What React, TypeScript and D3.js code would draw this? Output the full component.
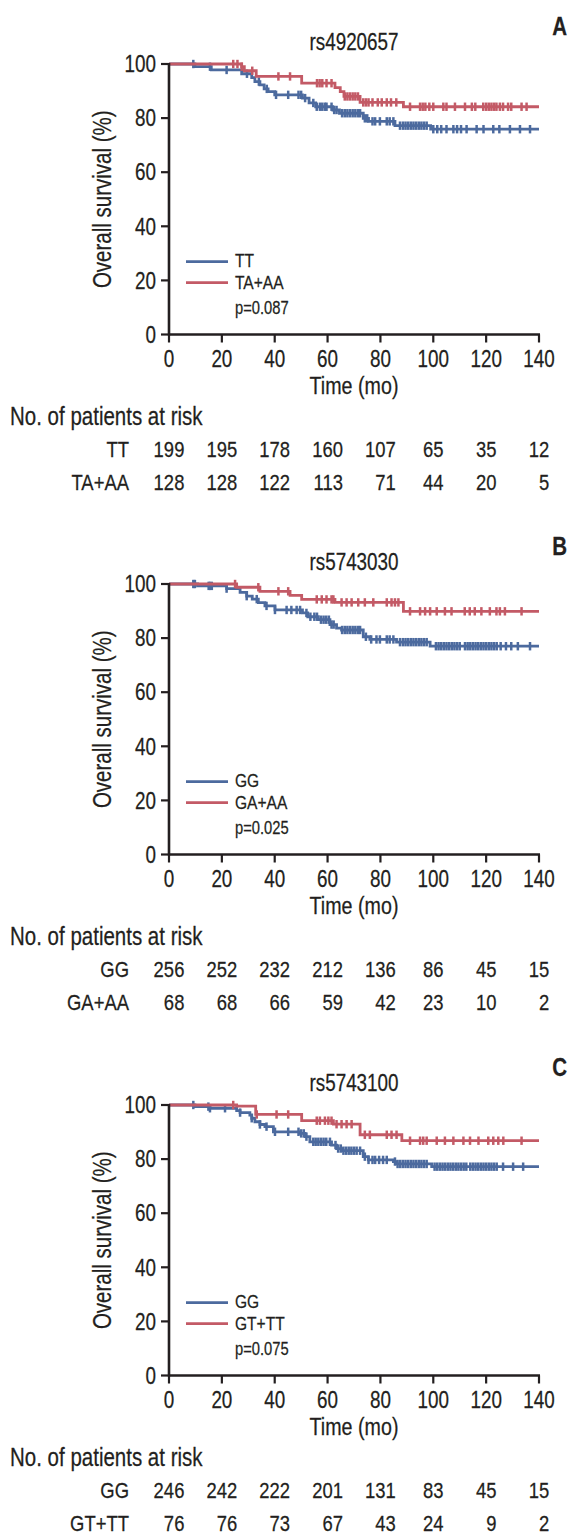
import React from 'react';
import * as d3 from 'd3';

type Step = [number, number];

const TIME_TICKS = [0, 20, 40, 60, 80, 100, 120, 140];
const SURV_TICKS = [0, 20, 40, 60, 80, 100];

// ---- Panel A: rs4920657 ----
const A_TITLE = 'rs4920657';
const A_LETTER = 'A';
const A_GROUPS = ['TT', 'TA+AA'];
const A_P = 'p=0.087';
const A_BLUE_STEPS: Step[] = [[0, 100], [9.8, 99.0], [16, 97.8], [27.5, 96.4], [31.3, 95.0], [32.5, 93.5], [34.4, 92.3], [36, 90.8], [37.5, 89.8], [40, 88.6], [50.5, 87.4], [53, 85.6], [55.5, 84.2], [62, 83.0], [64.5, 81.8], [73.5, 79.9], [75.5, 78.8], [85.5, 77.2], [99, 75.9]];
const A_BLUE_CENSOR = [9.2, 15.5, 21.8, 29.5, 34, 37, 40.5, 45.1, 49, 50, 51.5, 54.6, 55.9, 57.1, 58, 59, 59.6, 61.5, 62.5, 63.4, 65.5, 66.5, 67.5, 68.5, 69.5, 70.5, 71.5, 72.3, 74.1, 75, 77, 78, 79.8, 82.4, 83.5, 84.9, 87.4, 88.5, 89.5, 90.5, 91.5, 92.5, 93.5, 94.5, 95.5, 96.5, 97.5, 100, 101.5, 103, 105, 107.6, 109, 110.5, 112.6, 116.4, 119, 122.7, 125, 129, 132.8, 136.6];
const A_RED_STEPS: Step[] = [[0, 100], [27.5, 99.0], [28.5, 97.5], [33, 95.4], [50.2, 92.9], [62.8, 91.3], [64.8, 89.8], [66.2, 88.0], [72.3, 85.8], [88.7, 84.2]];
const A_RED_CENSOR = [24.3, 25.9, 27.5, 31.5, 41.4, 45.8, 56, 57, 58, 59.6, 61.5, 66.5, 67.5, 68.5, 69.5, 70.5, 71.5, 73.5, 74.5, 75.5, 77, 79, 80.5, 82.4, 84, 86, 91.2, 95, 96, 97, 98.5, 100, 103.8, 105, 108.2, 112, 114.6, 115.9, 118.9, 120, 121, 122, 123, 123.9, 125.2, 126.4, 128.3, 129.5, 133.4, 135.3];
const A_RISK_1 = [199, 195, 178, 160, 107, 65, 35, 12];
const A_RISK_2 = [128, 128, 122, 113, 71, 44, 20, 5];

// ---- Panel B: rs5743030 ----
const B_TITLE = 'rs5743030';
const B_LETTER = 'B';
const B_GROUPS = ['GG', 'GA+AA'];
const B_P = 'p=0.025';
const B_BLUE_STEPS: Step[] = [[0, 100], [10.8, 99.3], [21.8, 98.3], [26.9, 96.9], [29.4, 95.5], [31.5, 94.4], [33.8, 93.1], [36.3, 91.9], [40.1, 90.4], [50.5, 89.3], [52.5, 87.9], [56.5, 86.8], [60.9, 85.0], [63.4, 83.7], [65.3, 83.0], [73.5, 80.5], [76.0, 79.5], [86.1, 78.5], [98.8, 77.0]];
const B_BLUE_CENSOR = [9.2, 9.8, 15, 15.5, 16.2, 21.8, 29.4, 33.2, 36.9, 40.1, 44.5, 46.3, 48.3, 49.6, 52, 53.5, 55, 56, 57.5, 58.5, 59.5, 60.5, 61.5, 62.3, 65.5, 66.5, 67.5, 68.5, 69.5, 70.5, 71.5, 72.3, 74.5, 76.5, 78.5, 79.8, 82.4, 83.5, 84.9, 87.4, 88.5, 89.5, 90.5, 91.5, 92.5, 93.5, 94.5, 95.5, 96.5, 97.5, 101, 102, 103, 104, 105, 106, 107, 108, 109, 110, 112, 113, 114, 115, 116, 117, 118, 119, 120, 121, 122, 123, 124, 125.5, 127.5, 129.5, 132, 136.6];
const B_RED_STEPS: Step[] = [[0, 100], [25.6, 98.8], [34.4, 97.3], [45.8, 95.8], [50.2, 94.3], [62.8, 93.2], [88.7, 89.9]];
const B_RED_CENSOR = [25, 33.8, 41.4, 45.1, 55.9, 57.8, 59.6, 61.5, 62.2, 65.3, 67.2, 69.1, 71.6, 74.1, 77.3, 82.4, 84.2, 85.5, 86.8, 91.2, 95, 96.9, 98.8, 101.3, 104.4, 106.9, 111.9, 113.8, 115.7, 118.2, 121.4, 123.9, 125.2, 127.1, 133.4];
const B_RISK_1 = [256, 252, 232, 212, 136, 86, 45, 15];
const B_RISK_2 = [68, 68, 66, 59, 42, 23, 10, 2];

// ---- Panel C: rs5743100 ----
const C_TITLE = 'rs5743100';
const C_LETTER = 'C';
const C_GROUPS = ['GG', 'GT+TT'];
const C_P = 'p=0.075';
const C_BLUE_STEPS: Step[] = [[0, 100], [9.8, 99.4], [15.5, 98.8], [25.6, 97.9], [26.9, 97.2], [30.6, 96.3], [31.3, 95.1], [32.5, 93.8], [34.4, 92.8], [36.3, 92.0], [39.5, 90.1], [49.6, 89.5], [51.5, 88.3], [53.3, 86.4], [61.5, 85.2], [63.4, 83.9], [65.3, 83.1], [73.5, 80.9], [75.4, 79.7], [84.9, 79.1], [86.1, 78.2], [99.4, 77.2]];
const C_BLUE_CENSOR = [9.2, 14.9, 15.5, 21.2, 26.9, 31.3, 34.4, 36.9, 40.1, 45.1, 49, 50, 51, 52, 54.6, 55.5, 56.5, 57.5, 58.5, 59.5, 60.9, 63, 64, 65, 66, 67, 68, 69, 70, 71, 72.3, 74.1, 75.5, 77, 78, 79.5, 81, 82.4, 85.5, 86.5, 87.5, 88.5, 89.5, 90.5, 91.5, 92.5, 93.5, 94.5, 95.5, 96.5, 97.5, 100.5, 101.5, 102.5, 103.5, 104.5, 105.5, 106.5, 107.5, 108.5, 109.5, 110.5, 111.5, 112.5, 114, 115, 116, 117, 118, 119, 120, 121, 122, 123, 124, 126.4, 130.2, 134];
const C_RED_STEPS: Step[] = [[0, 100], [25.6, 99.6], [32.8, 96.5], [50.2, 94.2], [62.2, 92.9], [72.3, 89.0], [88.1, 86.8]];
const C_RED_CENSOR = [24.3, 33.2, 40.7, 45.1, 55.9, 57.1, 59, 60.3, 61.5, 63.4, 65.3, 67.2, 69.1, 74.1, 76, 82.4, 84.2, 86.1, 91.2, 95, 96.2, 97.5, 101.3, 104.4, 107.6, 111.4, 113.9, 117.1, 120.8, 122.7, 124.6, 126.5, 133.4];
const C_RISK_1 = [246, 242, 222, 201, 131, 83, 45, 15];
const C_RISK_2 = [76, 76, 73, 67, 43, 24, 9, 2];

// ---- layout ----
const W = 572;
const H = 1534;
const X0 = 169;
const X1 = 539;
const TOP = 64;
const BOTTOM = 334.5;
const PANEL_OFFSETS = [0, 520, 1041];
const FONT = "'Liberation Sans', Arial, sans-serif";
const NARROW = 0.82;
const INK = '#231f20';
const BLUE = '#4c6a9e';
const RED = '#c35a66';

const xScale = d3.scaleLinear().domain([0, 140]).range([X0, X1]);
const yScale = d3.scaleLinear().domain([0, 100]).range([BOTTOM, TOP]);

function survAt(steps: Step[], t: number) {
  let v = 100;
  for (const [tt, s] of steps) {
    if (tt <= t) v = s;
    else break;
  }
  return v;
}

const line = d3
  .line<Step>()
  .x((d) => xScale(d[0]))
  .y((d) => yScale(d[1]))
  .curve(d3.curveStepAfter);

type NTextProps = {
  x: number;
  y: number;
  size: number;
  anchor?: 'start' | 'middle' | 'end';
  weight?: string;
  rotate?: number;
  dy?: string;
  children: React.ReactNode;
};

// Condensed text: regular sans face squeezed horizontally
function NText({ x, y, size, anchor = 'start', weight = 'normal', rotate = 0, dy, children }: NTextProps) {
  const rot = rotate ? ` rotate(${rotate})` : '';
  return (
    <text
      transform={`translate(${x},${y})${rot} scale(${NARROW},1)`}
      textAnchor={anchor}
      fontSize={size}
      fontWeight={weight}
      dy={dy}
      stroke={INK}
      strokeWidth={0.25}
    >
      {children}
    </text>
  );
}

function Curve({ steps, censor, color }: { steps: Step[]; censor: number[]; color: string }) {
  const pts: Step[] = [...steps, [140, steps[steps.length - 1][1]]];
  return (
    <g>
      <path d={line(pts) || ''} fill="none" stroke={color} strokeWidth={2.8} />
      {censor.map((t, i) => {
        const x = xScale(t);
        const y = yScale(survAt(steps, t));
        return <line key={i} x1={x} x2={x} y1={y - 4.2} y2={y + 4.2} stroke={color} strokeWidth={2.5} />;
      })}
    </g>
  );
}

type PanelProps = {
  dy: number;
  title: string;
  letter: string;
  groups: string[];
  p: string;
  blueSteps: Step[];
  blueCensor: number[];
  redSteps: Step[];
  redCensor: number[];
  risk1: number[];
  risk2: number[];
};

function Panel(props: PanelProps) {
  const { dy, title, letter, groups, p, blueSteps, blueCensor, redSteps, redCensor, risk1, risk2 } = props;
  const riskFont = 22.5;
  const digitW = riskFont * 0.556 * NARROW;
  return (
    <g transform={`translate(0,${dy})`} fontFamily={FONT} fill={INK}>
      <NText x={(X0 + X1) / 2} y={50} anchor="middle" size={23}>{title}</NText>
      <NText x={567} y={35} anchor="end" size={25} weight="bold">{letter}</NText>

      {/* curves */}
      <Curve steps={blueSteps} censor={blueCensor} color={BLUE} />
      <Curve steps={redSteps} censor={redCensor} color={RED} />

      {/* axes */}
      <line x1={X0} x2={X0} y1={TOP - 1} y2={BOTTOM + 1} stroke={INK} strokeWidth={2.6} />
      <line x1={X0 - 1} x2={X1 + 1} y1={BOTTOM} y2={BOTTOM} stroke={INK} strokeWidth={2.6} />
      {SURV_TICKS.map((v) => (
        <g key={v}>
          <line x1={X0 - 8} x2={X0} y1={yScale(v)} y2={yScale(v)} stroke={INK} strokeWidth={2.2} />
          <NText x={156} y={yScale(v)} dy="0.36em" anchor="end" size={23}>{v}</NText>
        </g>
      ))}
      {TIME_TICKS.map((t) => (
        <g key={t}>
          <line x1={xScale(t)} x2={xScale(t)} y1={BOTTOM} y2={BOTTOM + 8} stroke={INK} strokeWidth={2.2} />
          <NText x={xScale(t)} y={367} anchor="middle" size={23}>{t}</NText>
        </g>
      ))}
      <NText x={(X0 + X1) / 2} y={394} anchor="middle" size={24}>Time (mo)</NText>
      <NText x={111} y={(TOP + BOTTOM) / 2} rotate={-90} anchor="middle" size={25}>Overall survival (%)</NText>

      {/* legend */}
      <line x1={186} x2={228} y1={261.7} y2={261.7} stroke={BLUE} strokeWidth={2.8} />
      <NText x={235} y={267} size={19}>{groups[0]}</NText>
      <line x1={186} x2={228} y1={282.7} y2={282.7} stroke={RED} strokeWidth={2.8} />
      <NText x={235} y={288.5} size={19}>{groups[1]}</NText>
      <NText x={235} y={314} size={18}>{p}</NText>

      {/* risk table */}
      <NText x={10} y={425} size={25}>No. of patients at risk</NText>
      <NText x={129} y={457} anchor="end" size={riskFont}>{groups[0]}</NText>
      <NText x={129} y={489.5} anchor="end" size={riskFont}>{groups[1]}</NText>
      {TIME_TICKS.map((t, i) => {
        const right = xScale(t) + (String(risk1[i]).length * digitW) / 2;
        return (
          <g key={t}>
            <NText x={right} y={457} anchor="end" size={riskFont}>{risk1[i]}</NText>
            <NText x={right} y={489.5} anchor="end" size={riskFont}>{risk2[i]}</NText>
          </g>
        );
      })}
    </g>
  );
}

export default function App() {
  return (
    <svg
      width={W}
      height={H}
      viewBox={`0 0 ${W} ${H}`}
      style={{ position: 'absolute', left: 0, top: 0, background: '#fff' }}
    >
      <rect width={W} height={H} fill="#fff" />
      <Panel dy={PANEL_OFFSETS[0]} title={A_TITLE} letter={A_LETTER} groups={A_GROUPS} p={A_P}
        blueSteps={A_BLUE_STEPS} blueCensor={A_BLUE_CENSOR} redSteps={A_RED_STEPS} redCensor={A_RED_CENSOR}
        risk1={A_RISK_1} risk2={A_RISK_2} />
      <Panel dy={PANEL_OFFSETS[1]} title={B_TITLE} letter={B_LETTER} groups={B_GROUPS} p={B_P}
        blueSteps={B_BLUE_STEPS} blueCensor={B_BLUE_CENSOR} redSteps={B_RED_STEPS} redCensor={B_RED_CENSOR}
        risk1={B_RISK_1} risk2={B_RISK_2} />
      <Panel dy={PANEL_OFFSETS[2]} title={C_TITLE} letter={C_LETTER} groups={C_GROUPS} p={C_P}
        blueSteps={C_BLUE_STEPS} blueCensor={C_BLUE_CENSOR} redSteps={C_RED_STEPS} redCensor={C_RED_CENSOR}
        risk1={C_RISK_1} risk2={C_RISK_2} />
    </svg>
  );
}
